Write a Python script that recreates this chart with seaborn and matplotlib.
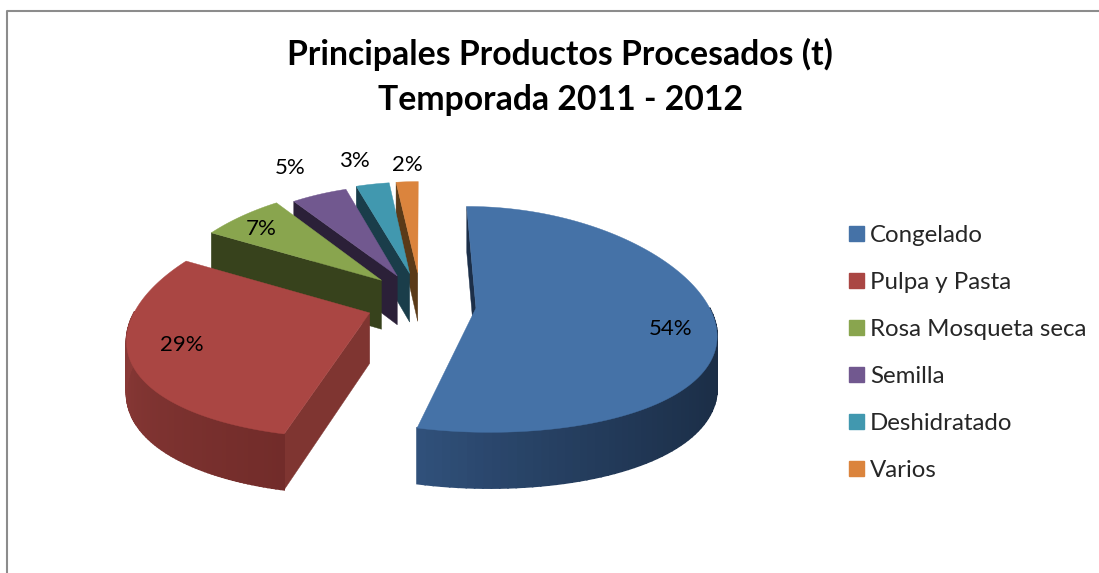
import numpy as np
import seaborn as sns
import matplotlib.pyplot as plt
from matplotlib.colors import to_rgb
from matplotlib.patches import Patch, Polygon

#DATA
productos = ["Congelado", "Pulpa y Pasta", "Rosa Mosqueta seca", "Semilla", "Deshidratado", "Varios"]
porcentajes = [54, 29, 7, 5, 3, 2]
colores = ["#4572A7", "#AA4643", "#89A54E", "#71588F", "#4198AF", "#DB843D"]
titulo = "Principales Productos Procesados (t)\nTemporada 2011 - 2012"

#STYLE OF THE FAKE 3D PIE
explode_x = [0.237, 0.237, 0.237, 0.237, 0.237, 0.237]
explode_y = [0.29, 0.20, 0.33, 0.29, 0.29, 0.29]
radios = [1, 1, 0.97, 0.94, 0.95, 0.95]
etiqueta_xy = [(671, 329), (182, 345), (261, 229), (290, 168), (354, 161), (407, 165)]
pared_corte = ["#1c2f49", "#7f3531", "#37421c", "#2b2038", "#1a3d4a", "#5a3a18"]
pared_luz = ["#30507a", "#8c3b38", "#37421c", "#2b2038", "#1a3d4a", "#5a3a18"]
pared_sombra = ["#1a2c44", "#722c2a", "#37421c", "#2b2038", "#1a3d4a", "#5a3a18"]
cx, cy = 421, 304
rx, ry = 232, 111
kx, ky = 0.2, 0.1
alto = 50

sns.set_theme(style="white")
plt.rcParams["font.family"] = ["Lato", "DejaVu Sans"]
palette = sns.color_palette(colores)

fig = plt.figure(figsize=(10.99, 5.73), dpi=100)
ax = fig.add_axes([0, 0, 1, 1])
ax.set_xlim(0, 1099)
ax.set_ylim(573, 0)
ax.axis("off")


def proyecta(X, Y, z=0):
    x = cx + rx * X / (1 + kx * Y)
    y = cy - ry * Y / (1 + ky * Y) + z * alto / (1 + ky * Y)
    return np.column_stack([x, y])


def mezcla(c1, c2, t):
    a = np.array(to_rgb(c1))
    b = np.array(to_rgb(c2))
    return a + (b - a) * t


fracciones = np.cumsum([0] + porcentajes) / sum(porcentajes) * 2 * np.pi
# back slices first, then blue, red goes on top of green wall
orden = [5, 4, 3, 2, 0, 1]

for i in orden:
    a0, a1 = fracciones[i], fracciones[i + 1]
    medio = (a0 + a1) / 2
    ex = explode_x[i] * np.sin(medio)
    ey = explode_y[i] * np.cos(medio)
    th = np.linspace(a0, a1, 120)
    X = ex + radios[i] * np.sin(th)
    Y = ey + radios[i] * np.cos(th)
    borde = proyecta(X, Y)
    borde_b = proyecta(X, Y, 1)
    apice = proyecta(np.array([ex]), np.array([ey]))
    apice_b = proyecta(np.array([ex]), np.array([ey]), 1)

    # cut wall
    corte = np.vstack([borde[0], borde_b[0], apice_b[0], apice[0]])
    ax.add_patch(Polygon(corte, closed=True, fc=pared_corte[i], ec=pared_corte[i], lw=0.3))

    # outer wall, only the part looking at us
    visibles = np.where(np.cos(th) <= 0.02)[0]
    for n, j in enumerate(visibles[:-1]):
        t = n / max(len(visibles) - 2, 1)
        if i == 0:
            # blue goes dark left to right
            color = mezcla(pared_sombra[i], pared_luz[i], t ** 2)
        else:
            color = mezcla(pared_sombra[i], pared_luz[i], t)
        q = np.vstack([borde[j], borde[j + 1], borde_b[j + 1], borde_b[j]])
        ax.add_patch(Polygon(q, closed=True, fc=color, ec=color, lw=1.2))

    # top
    tapa = np.vstack([apice, borde])
    ax.add_patch(Polygon(tapa, closed=True, fc=palette[i], ec=palette[i], lw=0.3))

for v, (x, y) in zip(porcentajes, etiqueta_xy):
    ax.text(x, y, f"{v}%", ha="center", va="center", fontsize=16, color="black")

# grey frame, cut by the image on right and bottom
ax.plot([7, 7, 1099], [573, 11, 11], color="#8c8c8c", lw=1.5)

ax.text(560, 77, titulo, ha="center", va="center", fontsize=24.3, fontweight="bold",
        color="black", linespacing=1.47)

handles = [Patch(facecolor=c, edgecolor=c, label=p) for c, p in zip(palette, productos)]
ax.legend(handles=handles, loc="center left", bbox_to_anchor=(849 / 1099, 1 - 353 / 573),
          frameon=False, fontsize=17.3, handlelength=0.62, handleheight=0.62,
          handletextpad=0.25, labelspacing=1.08, borderpad=0, borderaxespad=0)

plt.savefig("out.png", dpi=100)
